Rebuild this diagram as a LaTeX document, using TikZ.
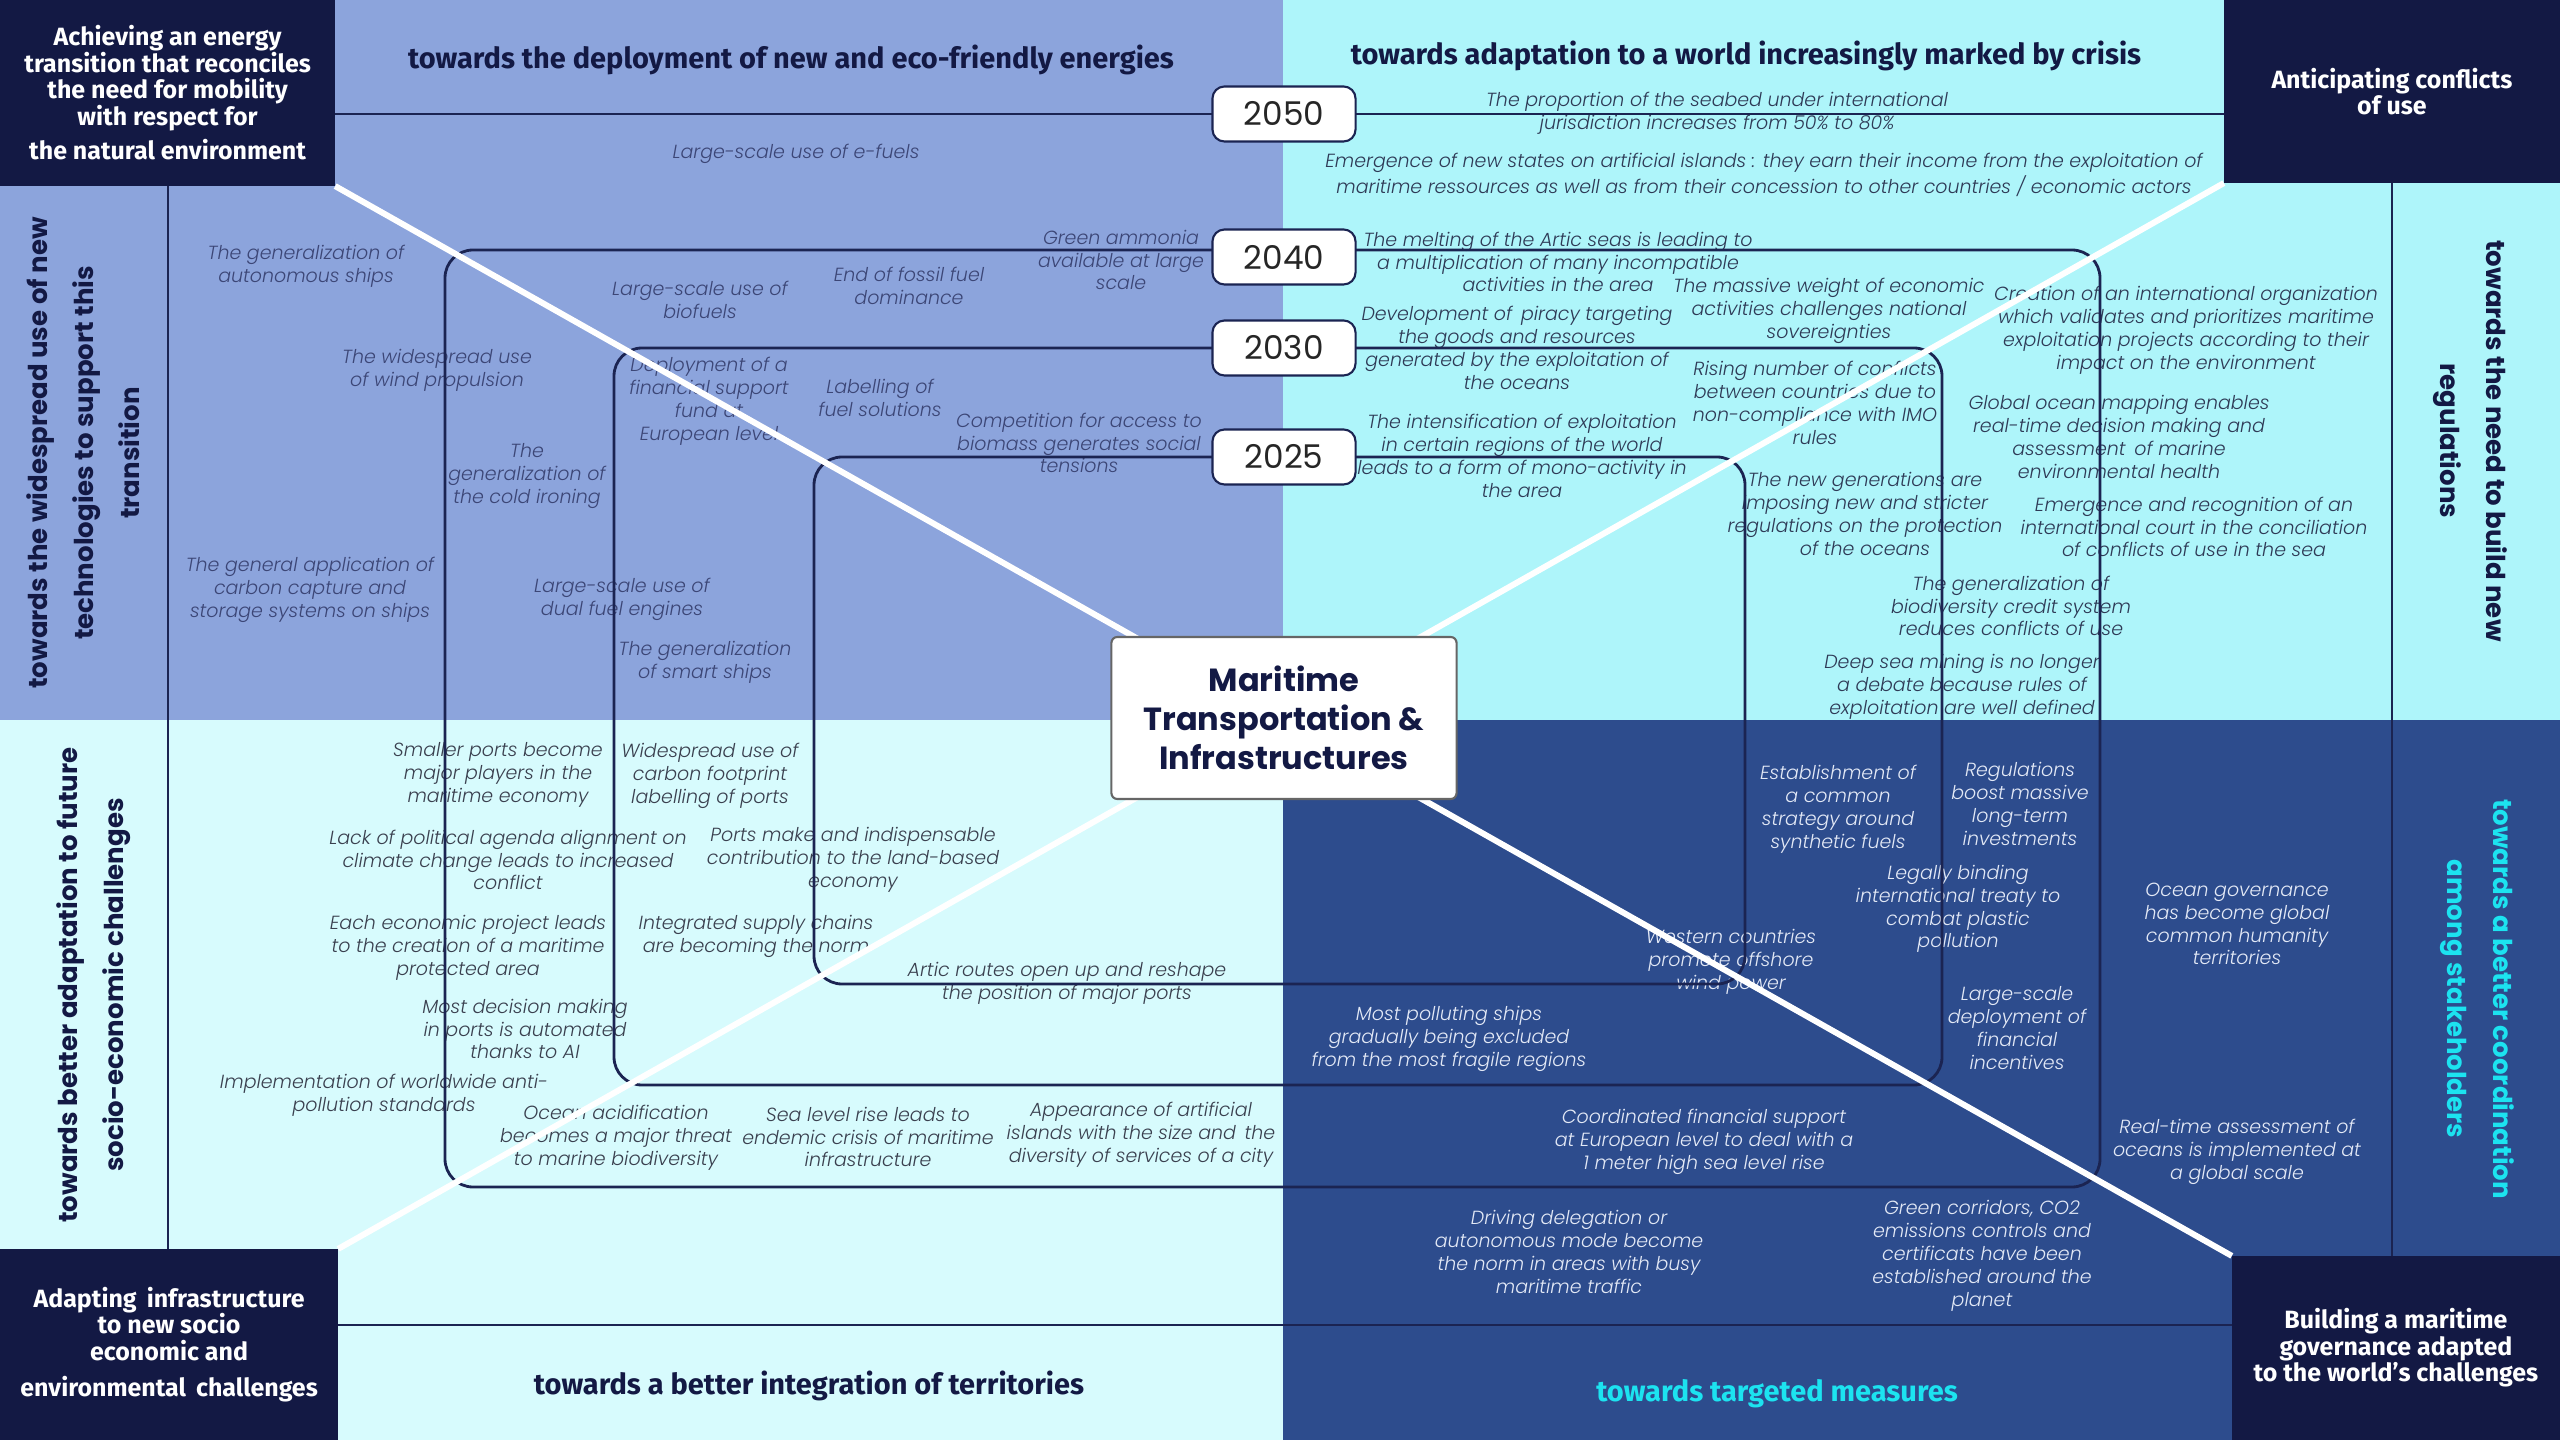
\documentclass[tikz,border=0pt]{standalone}
\usepackage{fontspec}
\setmainfont{Fira Sans}
\newfontfamily\wide{Poppins}
\newfontfamily\thin{Poppins Light}[ItalicFont={Poppins Light Italic}]
\usetikzlibrary{positioning}

\definecolor{navy}{HTML}{131944}
\definecolor{ringline}{HTML}{1B2452}
\definecolor{quadTL}{HTML}{8CA4DC}
\definecolor{quadTR}{HTML}{AEF5FA}
\definecolor{quadBL}{HTML}{D7FBFD}
\definecolor{quadBR}{HTML}{2D4C8D}
\definecolor{brightcyan}{HTML}{1CE3F0}
\definecolor{txtTL}{HTML}{3C4676}
\definecolor{txtTR}{HTML}{2E3A56}
\definecolor{txtBL}{HTML}{3A404F}
\definecolor{txtBR}{HTML}{E3E9F6}

\begin{document}
\begin{tikzpicture}[
        x=0.01cm, y=-0.01cm,
        every node/.style={inner sep=0pt, outer sep=0pt, align=center},
        goalbox/.style={fill=navy, text=white, font=\bfseries\fontsize{7.1}{7.5}\selectfont},
        heading/.style={text=navy, font=\bfseries\fontsize{8.25}{9.5}\selectfont},
        axislabel/.style={text=navy, font=\wide\bfseries\fontsize{7.4}{13.1}\selectfont},
        year/.style={draw=ringline, line width=0.6pt, fill=white, rounded corners=0.12cm, minimum width=1.43cm, minimum height=0.55cm, text=black!85, font=\wide\fontsize{9.3}{10}\selectfont},
        item/.style={font=\thin\itshape\fontsize{5.4}{6.5}\selectfont},
        itemTL/.style={item, text=txtTL},
        itemTR/.style={item, text=txtTR},
        itemBL/.style={item, text=txtBL},
        itemBR/.style={item, text=txtBR},
        ring/.style={draw=ringline, line width=0.8pt, rounded corners=0.28cm},
        stripline/.style={draw=ringline, line width=0.6pt},
        diag/.style={draw=white, line width=1.7pt}
    ]

    % Quadrants
    \useasboundingbox (0,0) rectangle (2560,1440);
    \fill[quadTL] (0,0) rectangle (1283,720);
    \fill[quadTR] (1283,0) rectangle (2560,720);
    \fill[quadBL] (0,720) rectangle (1283,1440);
    \fill[quadBR] (1283,720) rectangle (2560,1440);

    % Goals in the corners
    \node[goalbox, minimum width=3.35cm, minimum height=1.86cm, anchor=north west] (goalTL) at (0,0)
        {Achieving an energy\\transition that reconciles\\the need for mobility\\with respect for\\[2.4pt]the natural environment};
    \node[goalbox, minimum width=3.36cm, minimum height=1.83cm, anchor=north east] (goalTR) at (2560,0)
        {Anticipating conflicts\\of use};
    \node[goalbox, minimum width=3.38cm, minimum height=1.91cm, anchor=south west] (goalBL) at (0,1440)
        {Adapting \,infrastructure\\to new socio\\economic and\\[2.8pt]environmental \,challenges};
    \node[goalbox, minimum width=3.28cm, minimum height=1.84cm, anchor=south east] (goalBR) at (2560,1440)
        {Building a maritime\\governance adapted\\to the world's challenges};

    % Headings
    \node[heading] (headTL) at (791,60) {towards the deployment of new and eco-friendly energies};
    \node[heading] (headTR) at (1746,56) {towards adaptation to a world increasingly marked by crisis};
    \node[heading] (headBL) at (809,1386) {towards a better integration of territories};
    \node[heading, text=brightcyan] (headBR) at (1777,1394) {towards targeted measures};

    \node[axislabel, rotate=90] (axisTL) at (83,453) {towards the widespread use of new\\technologies to support this\\transition};
    \node[axislabel, rotate=90] (axisBL) at (94,985) {towards better adaptation to future\\socio-economic challenges};
    \node[axislabel, rotate=-90] (axisTR) at (2470,441) {towards the need to build new\\regulations};
    \node[axislabel, rotate=-90, text=brightcyan] (axisBR) at (2477,999) {towards a better coordination\\among stakeholders};

    % Energies
    \node[itemTL] (efuels) at (796,154) {Large-scale use of e-fuels};
    \node[itemTL] (autonomous) at (306,266) {The generalization of\\autonomous ships};
    \node[itemTL] (biofuels) at (700,300) {Large-scale use of\\biofuels};
    \node[itemTL] (fossil) at (909,286) {End of fossil fuel\\dominance};
    \node[itemTL] (ammonia) at (1121,260) {Green ammonia\\available at large\\scale};
    \node[itemTL] (wind) at (437,370) {The widespread use\\of wind propulsion};
    \node[itemTL] (fund) at (709,401) {Deployment of a\\financial support\\fund at\\European level};
    \node[itemTL] (labelling) at (880,398) {Labelling of\\fuel solutions};
    \node[itemTL] (biomass) at (1079,443) {Competition for access to\\biomass generates social\\tensions};
    \node[itemTL] (ironing) at (527,476) {The\\generalization of\\the cold ironing};
    \node[itemTL] (capture) at (310,590) {The general application of\\carbon capture and\\storage systems on ships};
    \node[itemTL] (dualfuel) at (622,599) {Large-scale use of\\dual fuel engines};
    \node[itemTL] (smart) at (705,662) {The generalization\\of smart ships};

    % Crisis
    \node[itemTR] (seabed) at (1717,113) {The proportion of the seabed under international\\jurisdiction increases from 50\% to 80\%};
    \node[itemTR] (islands) at (1764,175) {Emergence of new states on artificial islands : they earn their income from the exploitation of\\maritime ressources as well as from their concession to other countries / economic actors};
    \node[itemTR] (arctic) at (1558,262) {The melting of the Artic seas is leading to\\a multiplication of many incompatible\\activities in the area};
    \node[itemTR] (weight) at (1829,311) {The massive weight of economic\\activities challenges national\\sovereignties};
    \node[itemTR] (piracy) at (1517,348) {Development of \,piracy targeting\\the goods and resources\\generated by the exploitation of\\the oceans};
    \node[itemTR] (organization) at (2186,330) {Creation of an international organization\\which validates and prioritizes maritime\\exploitation projects according to their\\impact on the environment};
    \node[itemTR] (conflicts) at (1815,403) {Rising number of conflicts\\between countries due to\\non-compliance with IMO\\rules};
    \node[itemTR] (monoactivity) at (1522,456) {The intensification of exploitation\\in certain regions of the world\\leads to a form of mono-activity in\\the area};
    \node[itemTR] (mapping) at (2119,437) {Global ocean mapping enables\\real-time decision making and\\assessment \,of marine\\environmental health};
    \node[itemTR] (generations) at (1865,514) {The new generations are\\imposing new and stricter\\regulations on the protection\\of the oceans};
    \node[itemTR] (court) at (2194,527) {Emergence and recognition of an\\international court in the conciliation\\of conflicts of use in the sea};
    \node[itemTR] (credit) at (2011,606) {The generalization of\\biodiversity credit system\\reduces conflicts of use};
    \node[itemTR] (mining) at (1962,687) {Deep sea mining is no longer\\a debate because rules of\\exploitation are well defined};

    % Territories
    \node[itemBL] (smallports) at (498,775) {Smaller ports become\\major players in the\\maritime economy};
    \node[itemBL] (footprint) at (710,776) {Widespread use of\\carbon footprint\\labelling of ports};
    \node[itemBL] (agenda) at (508,860) {Lack of political agenda alignment on\\climate change leads to increased\\conflict};
    \node[itemBL] (landbased) at (853,860) {Ports make and indispensable\\contribution to the land-based\\economy};
    \node[itemBL] (protected) at (468,948) {Each economic project leads\\to the creation of a maritime\\protected area};
    \node[itemBL] (supply) at (756,936) {Integrated supply chains\\are becoming the norm};
    \node[itemBL] (routes) at (1067,983) {Artic routes open up and reshape\\the position of major ports};
    \node[itemBL] (automated) at (525,1029) {Most decision making\\in ports is automated\\thanks to AI};
    \node[itemBL] (antipollution) at (384,1095) {Implementation of worldwide anti-\\pollution standards};
    \node[itemBL] (acidification) at (616,1138) {Ocean acidification\\becomes a major threat\\to marine biodiversity};
    \node[itemBL] (sealevel) at (868,1137) {Sea level rise leads to\\endemic crisis of maritime\\infrastructure};
    \node[itemBL] (artificial) at (1141,1135) {Appearance of artificial\\islands with the size and \,the\\diversity of services of a city};

    % Measures
    \node[itemBR] (synthetic) at (1838,809) {Establishment of\\a common\\strategy around\\synthetic fuels};
    \node[itemBR] (investments) at (2020,804) {Regulations\\boost massive\\long-term\\investments};
    \node[itemBR] (plastic) at (1958,909) {Legally binding\\international treaty to\\combat plastic\\pollution};
    \node[itemBR] (governance) at (2237,924) {Ocean governance\\has become global\\common humanity\\territories};
    \node[itemBR] (offshore) at (1731,962) {Western countries\\promote offshore\\wind power};
    \node[itemBR] (incentives) at (2017,1028) {Large-scale\\deployment of\\financial\\incentives};
    \node[itemBR] (polluting) at (1449,1039) {Most polluting ships\\gradually being excluded\\from the most fragile regions};
    \node[itemBR] (coordinated) at (1704,1142) {Coordinated financial support\\at European level to deal with a\\1 meter high sea level rise};
    \node[itemBR] (assessment) at (2237,1152) {Real-time assessment of\\oceans is implemented at\\a global scale};
    \node[itemBR] (delegation) at (1569,1252) {Driving delegation or\\autonomous mode become\\the norm in areas with busy\\maritime traffic};
    \node[itemBR] (corridors) at (1982,1256) {Green corridors, CO2\\emissions controls and\\certificats have been\\established around the\\planet};

    % Horizons
    \draw[ring] (445,250) rectangle (2100,1187);
    \draw[ring] (614,348) rectangle (1942,1085);
    \draw[ring] (814,457) rectangle (1745,984);

    \coordinate (bottomrule) at (0,1325);
    \draw[stripline] (goalTL.south) -- (goalTL.south |- goalBL.north);
    \draw[stripline] (goalTR.south) -- (goalTR.south |- goalBR.north);
    \draw[stripline] (goalBL.east |- bottomrule) -- (goalBR.west |- bottomrule);

    \draw[diag] (goalTL.south east) -- (goalBR.north west);
    \draw[diag] (goalTR.south west) -- (goalBL.north east);

    \node[year] (y2050) at (1284,114) {2050};
    \draw[ring] (goalTL.east |- y2050) -- (y2050.west);
    \draw[ring] (y2050.east) -- (goalTR.west |- y2050);
    \node[year] (y2040) at (1284,257) {2040};
    \node[year] (y2030) at (1284,348) {2030};
    \node[year] (y2025) at (1284,457) {2025};

    \node[draw=black!60, line width=0.6pt, fill=white, rounded corners=0.06cm, minimum width=3.45cm, minimum height=1.62cm,
        text=navy, font=\wide\bfseries\fontsize{9.1}{11.1}\selectfont] (core) at (1284,718)
        {Maritime\\Transportation \&\\Infrastructures};

\end{tikzpicture}
\end{document}
